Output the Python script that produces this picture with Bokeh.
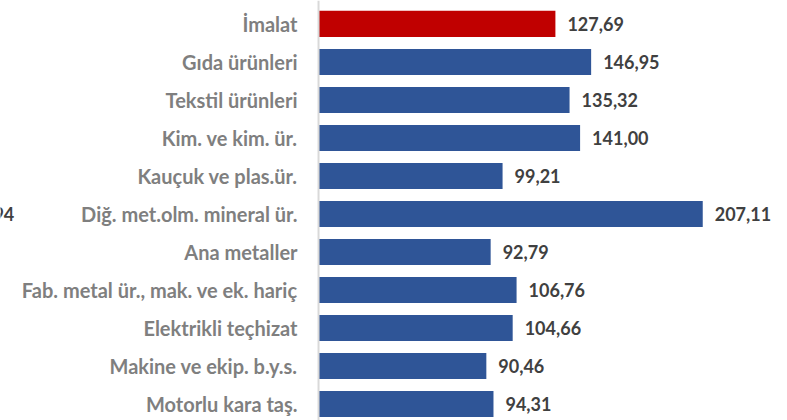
from bokeh.plotting import figure
from bokeh.models import Range1d, Label, Span
from bokeh.core.properties import value
from bokeh.embed import file_html
from bokeh.resources import INLINE

# data
categories = ["İmalat", "Gıda ürünleri", "Tekstil ürünleri", "Kim. ve kim. ür.",
              "Kauçuk ve plas.ür.", "Diğ. met.olm. mineral ür.", "Ana metaller",
              "Fab. metal ür., mak. ve ek. hariç", "Elektrikli teçhizat",
              "Makine ve ekip. b.y.s.", "Motorlu kara taş."]
values = [127.69, 146.95, 135.32, 141.00, 99.21, 207.11, 92.79,
          106.76, 104.66, 90.46, 94.31]
bar_colors = ["#C00000"] + ["#2F5597"] * 10

idx = list(range(len(categories)))
labels = [f"{v:.2f}".replace(".", ",") for v in values]

# whole canvas is the plot area; the left part (negative x) holds the category names
p = figure(
    width=787,
    height=420,
    x_range=Range1d(-171.43, 252.8),
    y_range=Range1d(start=10.434, end=-0.618),
    x_axis_location=None,
    y_axis_location=None,
    toolbar_location=None,
    min_border=0,
    output_backend="svg")

p.outline_line_color = None
p.xgrid.visible = False
p.ygrid.visible = False

p.hbar(y=idx, left=0, right=values, height=0.69, fill_color=bar_colors, line_color=None)

# value labels
p.text(x=values, y=idx, text=labels, x_offset=12, text_baseline="middle",
       text_font=value("Lato"), text_font_style="bold", text_font_size="18px",
       text_color="#404040")

# category names
p.text(x=0, y=idx, text=categories, x_offset=-21, text_align="right",
       text_baseline="middle", text_font=value("Lato"), text_font_style="bold",
       text_font_size="20px", text_color="#7f7f7f")

# vertical axis line
p.add_layout(Span(location=0, dimension="height", line_color="#d9d9d9", line_width=2))

# cut-off label from the neighbouring chart
p.add_layout(Label(x=-164, y=5, text="94", text_align="right", text_baseline="middle",
                   text_font="Lato", text_font_style="bold", text_font_size="18px",
                   text_color="#404040"))

open("out.html", "w").write(file_html(p, INLINE))
